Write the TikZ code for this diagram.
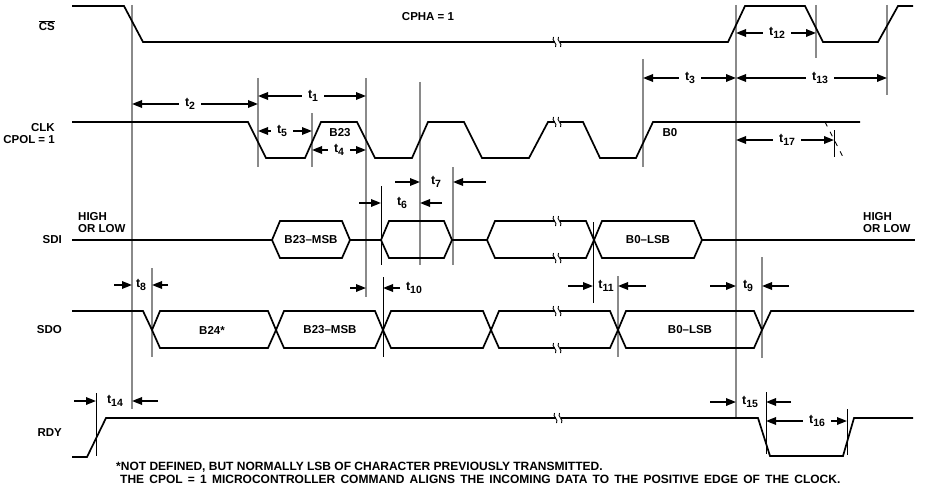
\documentclass[tikz,border=0pt]{standalone}
\usepackage{fontspec}
\setmainfont{Liberation Sans}
\usetikzlibrary{arrows.meta,calc}
\definecolor{ink}{HTML}{000000}
\definecolor{refgray}{HTML}{8A8A8A}
\newcommand{\tsub}[1]{t\raisebox{-3pt}{\fontsize{10.5}{11}\selectfont #1}}
\tikzset{
  wave/.style={draw=ink,line width=1.7pt,line join=miter},
  refline/.style={draw=refgray,line width=1.4pt},
  thinref/.style={draw=ink,line width=0.9pt},
  dim/.style={-{Triangle[length=10pt,width=7.5pt]},line width=1.7pt,draw=ink},
  lbl/.style={font=\bfseries\fontsize{11.5}{12}\selectfont,inner sep=0pt,text=ink},
  tlab/.style={font=\bfseries\fontsize{12.5}{13}\selectfont,inner sep=6pt,text=ink},
  sig/.style={lbl,anchor=east,align=right},
  note/.style={font=\bfseries\fontsize{12}{12}\selectfont,inner sep=0pt,anchor=base west},
  brk/.pic={
    \fill[white] (-2.5,-4) rectangle (2.5,4);
    \foreach \d in {-2.5,2.5}
      \draw[line width=0.9pt] (\d-1,-5) .. controls (\d-3.5,-1.5) and (\d+3.5,1.5) .. (\d+1,5);
  }
}
\begin{document}
\begin{tikzpicture}[x=1pt,y=-1pt]
  \useasboundingbox (0,0) rectangle (929,487);
  \fill[white] (0,0) rectangle (929,487);

  \foreach \c/\x/\ya/\yb in {cs1/132/5/409, cs2/736/5/419, cs3/816/5/58, cs4/887/5/95,
      clk1/258/78/167, clk2/312/113/167, clk3/366/78/297, clk4/420/82/265, sdi2/453/167/265,
      clkb/643/59/167, sdo1/152/268/357, sdo3/618/276/357, sdo4/762/257/358}
    {\coordinate (\c) at (\x,\ya); \draw[refline] (\c) -- (\x,\yb);}
  \foreach \c/\x/\ya/\yb in {sdi1/381/186/265, sdo2/383/277/357, sdi3/593/222/303,
      rdy1/96/393/456, rdy2/766/392/454, rdy3/847/409/455, clkend/834/130/157}
    {\coordinate (\c) at (\x,\ya); \draw[thinref] (\c) -- (\x,\yb);}

  \draw[wave] (72,6) -- (124,6) -- (143,42) -- (728,42) -- (745,6) -- (805,6)
    -- (823,42) -- (878,42) -- (898,6) -- (913,6);
  \draw[wave] (72,122) -- (248,122) -- (266,158) -- (305,158) -- (321,122) -- (357,122)
    -- (375,158) -- (412,158) -- (428,122) -- (464,122) -- (482,158) -- (529,158)
    -- (548,122) -- (583,122) -- (600,158) -- (636,158) -- (653,122) -- (860,122);
  \draw[draw=ink,line width=0.9pt,dash pattern=on 5pt off 6pt] (825,122) -- (843,157);

  \draw[wave] (72,240) -- (272,240) (350,240) -- (381,240) (452,240) -- (487,240)
    (702,240) -- (915,240);
  \foreach \a/\b in {272/350, 381/452, 487/594, 594/702}
    \draw[wave] (\a,240) -- (\a+8,221) -- (\b-8,221) -- (\b,240) -- (\b-8,258)
      -- (\a+8,258) -- cycle;
  \draw[wave] (72,311) -- (143,311) -- (152,330) (762,330) -- (771,311) -- (914,311);
  \foreach \a/\b in {152/276, 276/383, 383/491, 491/618, 618/762}
    \draw[wave] (\a,330) -- (\a+8,311) -- (\b-8,311) -- (\b,330) -- (\b-8,348)
      -- (\a+8,348) -- cycle;
  \draw[wave] (72,457) -- (87,457) -- (106,418) -- (758,418) -- (770,456) -- (843,456)
    -- (854,418) -- (913,418);

  \foreach \p in {(557,42), (557,122), (557,221), (557,258), (557,311), (557,348), (558,418)}
    \pic at \p {brk};

  \node[sig] (cs) at (55,26) {$\overline{\mbox{CS}}$};
  \node[sig] (clk) at (55,134) {CLK\\CPOL = 1};
  \node[sig] (sdi) at (62,240) {SDI};
  \node[sig] (sdo) at (62,330) {SDO};
  \node[sig] (rdy) at (62,433) {RDY};
  \node[lbl] (cpha) at (428,17) {CPHA = 1};
  \node[lbl,align=left,anchor=west] (hl1) at (78,223) {HIGH\\OR LOW};
  \node[lbl,align=left,anchor=west] (hl2) at (863,223) {HIGH\\OR LOW};
  \node[lbl] (b23) at (340,133) {B23};
  \node[lbl] (b0) at (670,133) {B0};
  \node[lbl] (sdimsb) at (311,240) {B23--MSB};
  \node[lbl] (sdilsb) at (648,240) {B0--LSB};
  \node[lbl] (b24) at (212,330) {B24*};
  \node[lbl] (sdomsb) at (330,330) {B23--MSB};
  \node[lbl] (sdolsb) at (690,330) {B0--LSB};

  \foreach \n/\s/\x/\y in {t2/2/190/104, t1/1/313/96, t5/5/282/131, t4/4/339/150,
      t3/3/690/78, t13/13/820/78, t12/12/777/33, t17/17/787/140, t16/16/817/421,
      t6/6/402/203, t7/7/436/182, t8/8/141/285, t10/10/414/288, t11/11/606/286,
      t9/9/748/286, t14/14/115/401, t15/15/750/402}
    \node[tlab] (\n) at (\x,\y) {\tsub{\s}};

  \foreach \n/\a/\b in {t2/cs1/clk1, t1/clk1/clk3, t5/clk1/clk2, t4/clk2/clk3, t3/clkb/cs2,
      t13/cs2/cs4, t12/cs2/cs3, t17/cs2/clkend, t16/rdy2/rdy3}
    {\draw[dim] (\n.west) -- (\n -| \a); \draw[dim] (\n.east) -- (\n -| \b);}
  \foreach \n/\a/\b/\la/\lb in {t8/cs1/sdo1/18/16, t6/sdi1/clk4/22/22, t7/clk4/sdi2/25/33,
      t10/clk3/sdo2/16/17, t11/sdi3/sdo3/25/28, t9/cs2/sdo4/26/27, t14/rdy1/cs1/22/26,
      t15/cs2/rdy2/26/25}
    {\draw[dim] ($(\n -| \a)+(-\la,0)$) -- (\n -| \a);
     \draw[dim] ($(\n -| \b)+(\lb,0)$) -- (\n -| \b);}

  \node[note] (fn1) at (116,470) {*NOT DEFINED, BUT NORMALLY LSB OF CHARACTER PREVIOUSLY TRANSMITTED.};
  \node[note] (fn2) at (120,483) {\spaceskip=5.2pt THE CPOL = 1 MICROCONTROLLER COMMAND ALIGNS THE INCOMING DATA TO THE POSITIVE EDGE OF THE CLOCK.};
\end{tikzpicture}
\end{document}
